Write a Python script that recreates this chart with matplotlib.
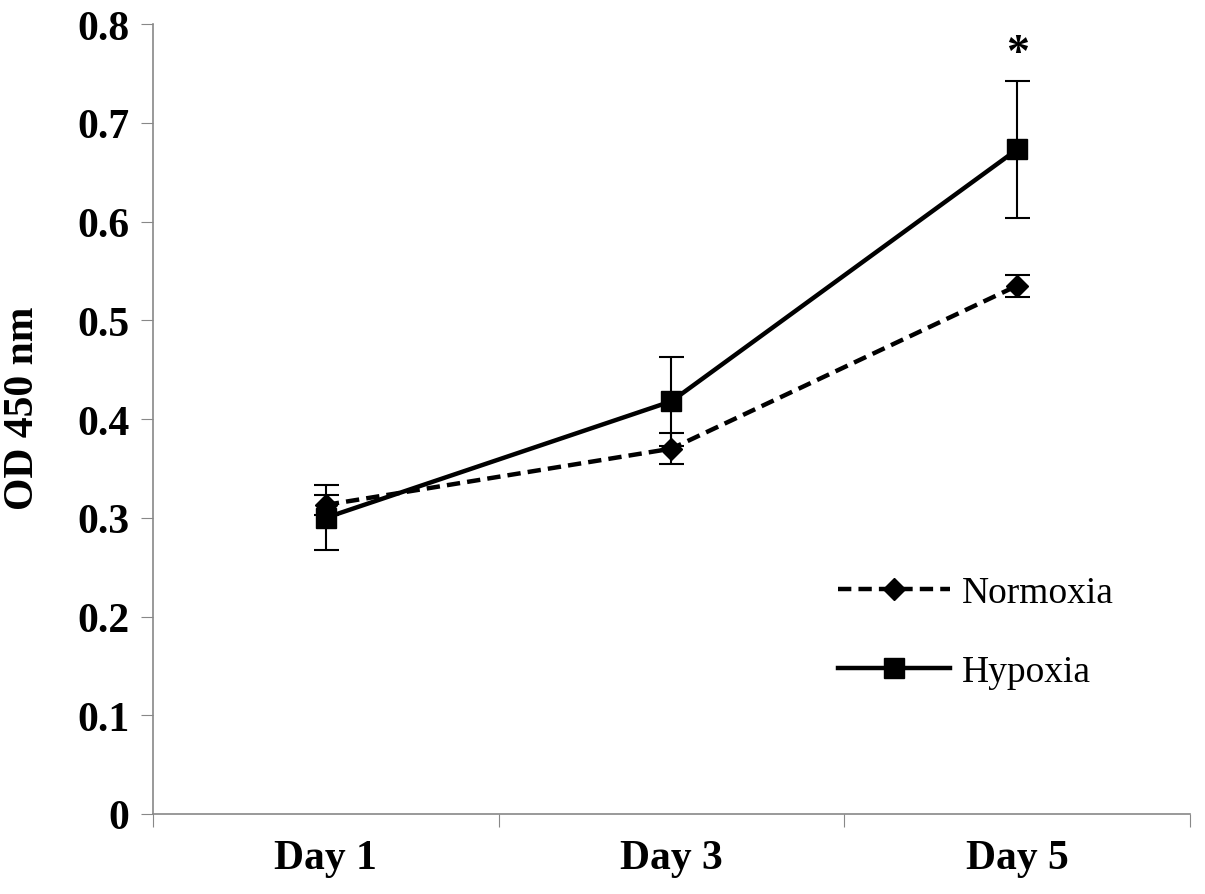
import matplotlib.pyplot as plt

days = ["Day 1", "Day 3", "Day 5"]
normoxia = [0.313, 0.370, 0.535]
normoxia_err = [0.010, 0.016, 0.011]
hypoxia = [0.300, 0.418, 0.673]
hypoxia_err = [0.033, 0.045, 0.069]
y_ticks = [0, 0.1, 0.2, 0.3, 0.4, 0.5, 0.6, 0.7, 0.8]
y_labels = ["0", "0.1", "0.2", "0.3", "0.4", "0.5", "0.6", "0.7", "0.8"]

plt.rcParams['font.family'] = ['Liberation Serif', 'DejaVu Serif']

fig = plt.figure(figsize=(12.05, 8.95), dpi=100)
ax = fig.add_axes([0.127, 0.0894, 0.8605, 0.8826])

x = list(range(len(days)))

ax.errorbar(x, normoxia, yerr=normoxia_err, fmt='none', ecolor='black',
            elinewidth=1.5, capsize=9, capthick=1.5, zorder=2)
ax.errorbar(x, hypoxia, yerr=hypoxia_err, fmt='none', ecolor='black',
            elinewidth=1.5, capsize=9, capthick=1.5, zorder=2)
ax.plot(x, normoxia, color='black', linestyle=(0, (3, 1.6)), linewidth=3.2,
        marker='D', markersize=11, label='Normoxia', zorder=3)
ax.plot(x, hypoxia, color='black', linestyle='-', linewidth=3.2,
        marker='s', markersize=14, label='Hypoxia', zorder=4)

ax.text(2, 0.77, "*", ha='center', va='center', fontsize=33, fontweight='bold')

ax.set_xlim(-0.5, 2.5)
ax.set_ylim(0, 0.8)
ax.set_yticks(y_ticks)
ax.set_yticklabels(y_labels, fontsize=30, fontweight='bold')
ax.set_xticks([-0.5, 0.5, 1.5, 2.5])
ax.set_xticklabels([])
ax.set_xticks(x, minor=True)
ax.set_xticklabels(days, minor=True, fontsize=30, fontweight='bold')
ax.tick_params(axis='x', which='minor', length=0, pad=18)
ax.tick_params(axis='x', which='major', length=9, color='#888888', direction='out')
ax.tick_params(axis='y', length=9, color='#888888', direction='out', pad=8)

for s in ['top', 'right']:
    ax.spines[s].set_visible(False)
for s in ['left', 'bottom']:
    ax.spines[s].set_color('#888888')
    ax.spines[s].set_linewidth(1.2)

ax.set_ylabel("OD 450 nm", fontsize=30, fontweight='bold', va='center')
ax.yaxis.set_label_coords(-0.125, 0.515)

ax.legend(loc='upper left', bbox_to_anchor=(0.628, 0.345), frameon=False,
          fontsize=27, handlelength=3.0, labelspacing=1.2, handletextpad=0.3)

fig.savefig("out.png", dpi=100)
